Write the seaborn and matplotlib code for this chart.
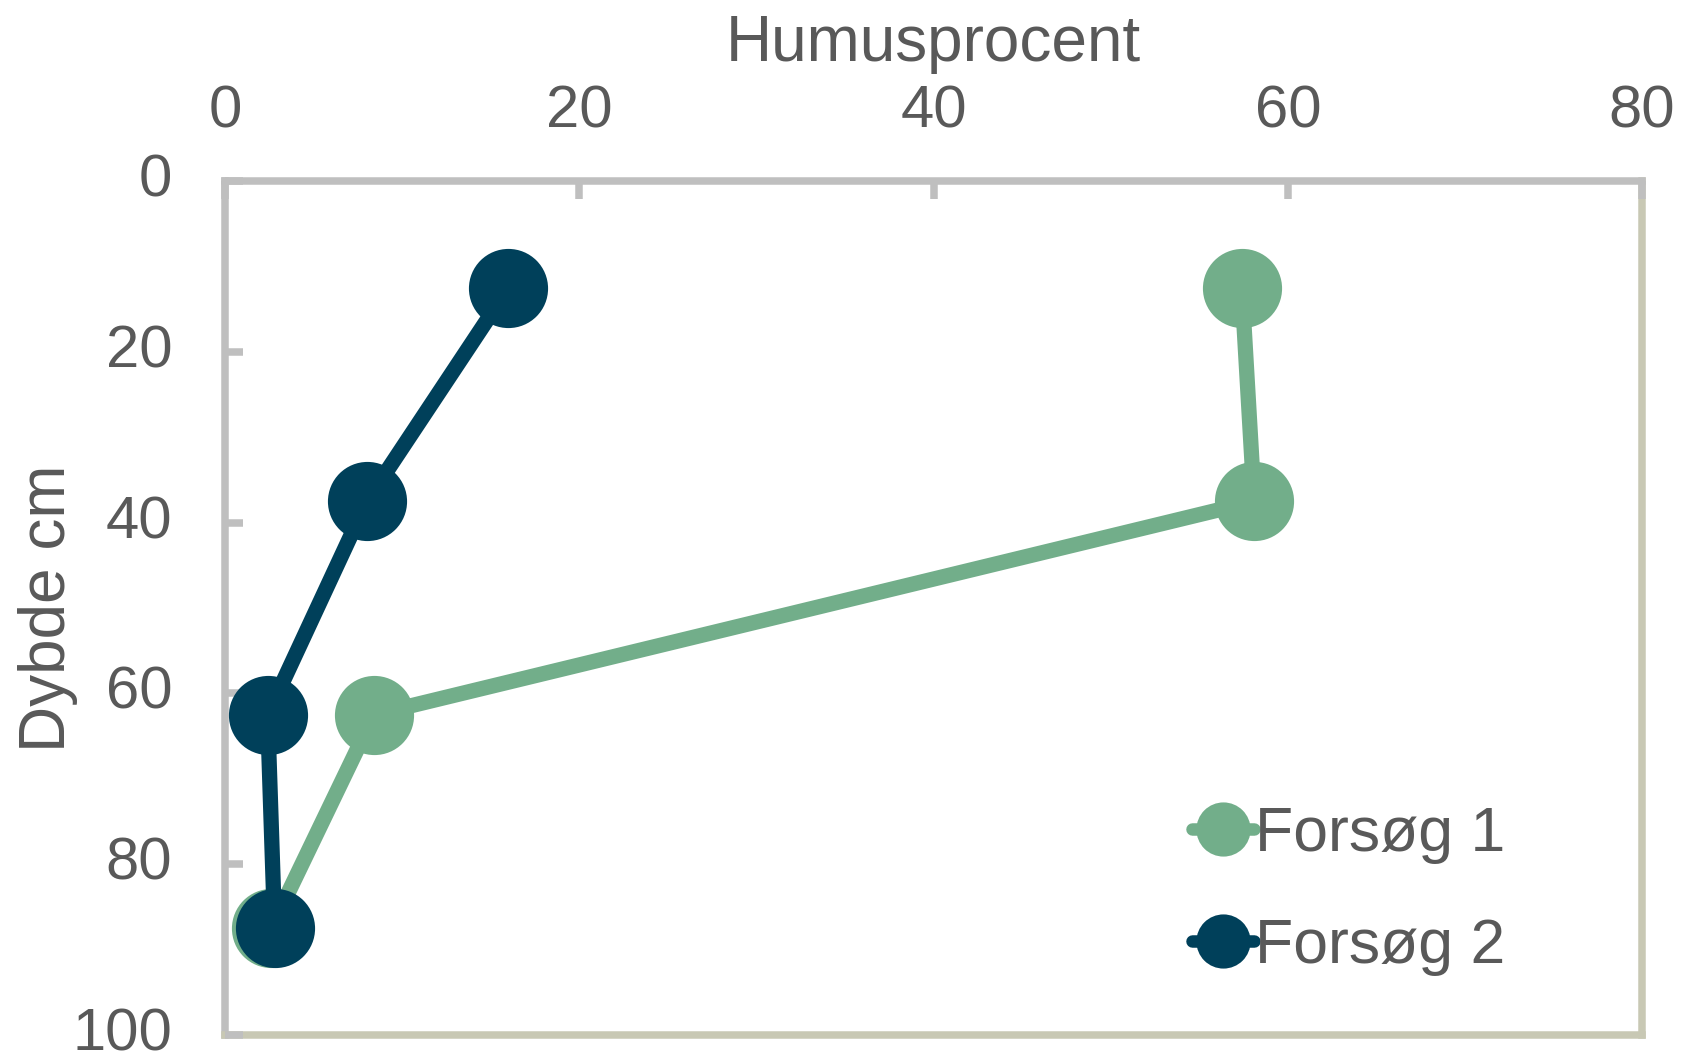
"""Humus percentage by soil depth for two trials."""

import matplotlib

matplotlib.use("Agg")

import matplotlib.pyplot as plt
import pandas as pd
import seaborn as sns
from matplotlib.lines import Line2D

DEPTHS = [12.5, 37.5, 62.5, 87.5]
FORSOG_1 = [57.4, 58.1, 8.4, 2.6]
FORSOG_2 = [16.0, 8.0, 2.4, 2.8]
SERIES = ["Forsøg 1", "Forsøg 2"]
X_TICKS = [0, 20, 40, 60, 80]
Y_TICKS = [0, 20, 40, 60, 80, 100]

PALETTE = {"Forsøg 1": "#72AE8A", "Forsøg 2": "#00405A"}
TEXT = "#595959"
SPINE = "#BFBFBF"
SPINE_FAR = "#C8C8B4"


def build_frame() -> pd.DataFrame:
    rows = []
    for name, values in zip(SERIES, [FORSOG_1, FORSOG_2]):
        for depth, humus in zip(DEPTHS, values):
            rows.append({"serie": name, "humus": humus, "dybde": depth})
    return pd.DataFrame(rows)


def main() -> None:
    sns.set_theme(style="white")
    plt.rcParams["font.family"] = ["Liberation Sans", "DejaVu Sans"]

    df = build_frame()

    fig = plt.figure(figsize=(16.86, 10.6), dpi=100)
    ax = fig.add_axes([0.1335, 0.0236, 0.8405, 0.8056])

    sns.lineplot(
        data=df,
        x="humus",
        y="dybde",
        hue="serie",
        hue_order=SERIES,
        palette=PALETTE,
        sort=False,
        estimator=None,
        marker="o",
        markersize=57,
        markeredgewidth=0,
        linewidth=11,
        legend=False,
        clip_on=False,
        ax=ax,
    )

    ax.set_xlim(0, 80)
    ax.set_ylim(100, 0)
    ax.set_xticks(X_TICKS)
    ax.set_yticks(Y_TICKS)

    ax.xaxis.tick_top()
    ax.xaxis.set_label_position("top")
    ax.set_xlabel("Humusprocent", fontsize=46, color=TEXT)
    ax.xaxis.set_label_coords(0.5, 1.1405)
    ax.set_ylabel("Dybde cm", fontsize=46, color=TEXT)
    ax.yaxis.set_label_coords(-0.104, 0.5)

    ax.tick_params(
        axis="both", direction="in", length=13, width=5.4, color=SPINE,
        labelsize=43, labelcolor=TEXT,
    )
    ax.tick_params(axis="x", pad=30, bottom=False, top=True)
    ax.tick_params(axis="y", pad=38, left=True, right=False)
    for label in ax.get_yticklabels():
        label.set_verticalalignment("center")

    for side in ["top", "left"]:
        ax.spines[side].set_color(SPINE)
        ax.spines[side].set_linewidth(5.4)
    for side in ["bottom", "right"]:
        ax.spines[side].set_color(SPINE_FAR)
        ax.spines[side].set_linewidth(5.4)
    for spine in ax.spines.values():
        spine.set_visible(True)
        spine.set_zorder(0.5)
    ax.grid(False)

    handles = [
        Line2D([], [], color=PALETTE[name], marker="o", markersize=39,
               markeredgewidth=0, linewidth=9)
        for name in SERIES
    ]
    ax.legend(
        handles,
        SERIES,
        loc="center left",
        bbox_to_anchor=(0.682, 0.169),
        frameon=False,
        fontsize=45,
        labelcolor=TEXT,
        handlelength=1.0,
        handletextpad=0.02,
        labelspacing=0.85,
        borderpad=0,
        borderaxespad=0,
    )

    fig.savefig("out.png", dpi=100)
    plt.close(fig)


if __name__ == "__main__":
    main()
